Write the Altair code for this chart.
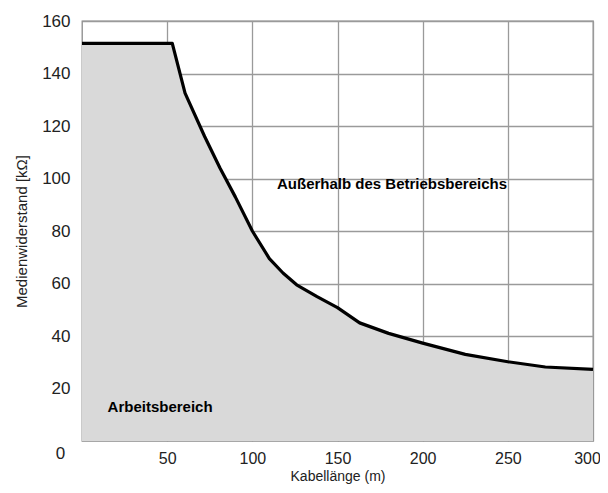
import altair as alt
import pandas as pd

# Curve: cable length (m) vs. medium resistance (kΩ)
lengths = [0, 53, 60.5, 72, 81, 90, 100, 110, 118, 126, 138, 150, 163, 180, 200, 225, 250, 272, 300]
resist = [151.5, 151.5, 132.5, 116, 104, 93, 80, 69.5, 64, 59.5, 55, 50.8, 45, 41, 37.3, 33, 30.2, 28.2, 27.3]

x_ticks = [50, 100, 150, 200, 250, 300]
y_ticks = [20, 40, 60, 80, 100, 120, 140, 160]

region_labels = ["Außerhalb des Betriebsbereichs", "Arbeitsbereich"]
region_x = [182, 15]
region_y = [98, 13]

df = pd.DataFrame({"x": lengths, "y": resist})
lab = pd.DataFrame({"t": region_labels, "x": region_x, "y": region_y})
origin = pd.DataFrame({"t": ["0"], "x": [0], "y": [0]})

xs = alt.Scale(domain=[0, 300], nice=False, zero=False)
ys = alt.Scale(domain=[0, 160], nice=False)

FONT = "Liberation Sans"

xax = alt.Axis(values=x_ticks, grid=True, gridColor="#9a9a9a", gridWidth=1.3,
               tickSize=0, domain=False, labelFontSize=16, labelPadding=9,
               labelColor="#222", labelFont=FONT, title="Kabellänge (m)",
               titleFontSize=14, titleFontWeight="normal", titleFont=FONT,
               titlePadding=3, titleColor="#222", labelFlush=False,
               labelOffset={"condition": {"test": "datum.value == 300", "value": -6}, "value": 0})
yax = alt.Axis(values=y_ticks, grid=True, gridColor="#9a9a9a", gridWidth=1.3,
               tickSize=0, domain=False, labelFontSize=17, labelPadding=12,
               labelColor="#222", labelFont=FONT, title="Medienwiderstand [kΩ]",
               titleFontSize=15, titleFontWeight="normal", titleFont=FONT,
               titlePadding=12, titleColor="#222", labelFlush=False)

area = alt.Chart(df).mark_area(color="#d9d9d9", opacity=1).encode(
    x=alt.X("x:Q", scale=xs, axis=xax),
    y=alt.Y("y:Q", scale=ys, axis=yax),
)
line = alt.Chart(df).mark_line(color="black", strokeWidth=3.2, strokeJoin="round").encode(
    x=alt.X("x:Q", scale=xs),
    y=alt.Y("y:Q", scale=ys),
)
t1 = alt.Chart(lab.iloc[[0]]).mark_text(fontWeight="bold", fontSize=15, font=FONT,
                                        color="black", align="center", baseline="middle").encode(
    x=alt.X("x:Q", scale=xs), y=alt.Y("y:Q", scale=ys), text="t:N")
t2 = alt.Chart(lab.iloc[[1]]).mark_text(fontWeight="bold", fontSize=15, font=FONT,
                                        color="black", align="left", baseline="middle").encode(
    x=alt.X("x:Q", scale=xs), y=alt.Y("y:Q", scale=ys), text="t:N")
t0 = alt.Chart(origin).mark_text(fontSize=17, font=FONT, color="#222",
                                 align="center", baseline="middle", dx=-21.5, dy=13).encode(
    x=alt.X("x:Q", scale=xs), y=alt.Y("y:Q", scale=ys), text="t:N")

chart = alt.layer(area, line, t1, t2, t0).properties(
    width=511, height=420,
    autosize=alt.AutoSizeParams(type="none"),
    padding={"left": 74, "top": 13, "right": 7, "bottom": 44},
).configure_view(stroke="#8a8a8a", strokeWidth=1.3).configure_axis(gridOpacity=1)

chart.save("out.html", embed_options={"renderer": "svg", "actions": False})
